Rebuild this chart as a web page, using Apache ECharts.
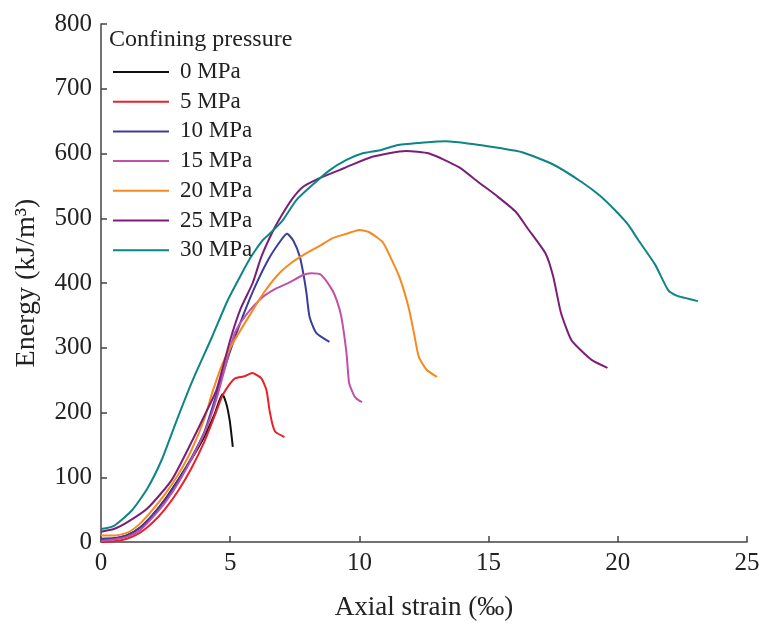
<!DOCTYPE html>
<html>
<head>
<meta charset="utf-8">
<script src="https://cdn.jsdelivr.net/npm/echarts@6/dist/echarts.min.js"></script>
<style>html,body{margin:0;padding:0;background:#fff}#chart{width:760px;height:624px}</style>
</head>
<body>
<div id="chart"></div>
<script>
var seriesNames = ['0 MPa','5 MPa','10 MPa','15 MPa','20 MPa','25 MPa','30 MPa'];
var xTicks = [0,5,10,15,20,25];
var yTicks = [0,100,200,300,400,500,600,700,800];

var strain0 = [0,0.5,1,1.5,2,2.5,3,3.5,4,4.4,4.7,4.86,4.98,5.05,5.1];
var energy0 = [3,5,10,22,42,67,97,128,163,198,228,212,188,165,147];

var strain5 = [0,0.5,1,1.5,2,2.5,3,3.5,4,4.4,4.7,5.0,5.2,5.56,5.85,6.2,6.4,6.52,6.64,6.75,7.1];
var energy5 = [0,1,5,14,30,52,80,114,155,195,226,245,253,256,261,253,235,204,181,170,162];

var strain10 = [0,0.5,1,1.5,2,2.5,3,3.5,4,4.5,5,5.5,6,6.5,7,7.2,7.45,7.7,7.85,7.95,8.07,8.33,8.84];
var energy10 = [5,6,10,22,42,66,96,130,170,232,295,350,398,438,468,476,465,440,410,385,348,323,309];

var strain15 = [0,0.5,1,1.5,2,2.5,3,3.5,4,4.5,5,5.2,5.6,6.25,6.8,7.3,7.8,8.14,8.5,8.95,9.15,9.3,9.5,9.6,9.75,9.87,10.1];
var energy15 = [2,4,8,18,38,62,92,128,168,225,300,325,350,378,392,401,412,415,413,389,370,348,292,246,230,222,216];

var strain20 = [0,0.5,1,1.5,2,2.5,3,3.5,4,4.3,4.7,5.1,5.75,6.3,6.9,7.4,7.95,8.5,8.95,9.5,10.0,10.4,10.9,11.2,11.55,11.9,12.1,12.3,12.6,13.0];
var energy20 = [10,10,14,28,50,75,105,142,190,230,275,307,350,385,415,432,446,458,469,476,482,478,463,440,409,363,325,286,266,255];

var strain25 = [0,0.5,1.04,1.8,2.74,3.55,4.0,4.47,5.0,5.4,5.87,6.2,6.65,7.0,7.4,7.8,8.3,9.2,9.5,10.5,11.8,12.7,13.85,14.6,15.3,16.05,16.5,17.2,17.5,17.8,18.2,18.6,19.0,19.6];
var energy25 = [16,20,31,52,96,158,195,235,312,360,400,440,480,505,530,548,559,574,579,595,604,600,579,556,535,510,485,446,410,354,312,295,281,269];

var strain30 = [0,0.5,1.2,1.8,2.35,2.93,3.55,4.3,4.9,5.37,5.8,6.25,6.5,7.0,7.56,8.2,8.84,9.5,10.1,10.8,11.5,12.5,13.35,14.5,15.5,16.3,17.5,18.6,19.3,19.95,20.4,20.8,21.45,21.95,22.3,22.6,23.1];
var energy30 = [20,25,49,83,127,188,250,317,373,409,440,466,475,495,528,552,574,590,600,605,613,617,619,614,608,602,583,556,535,510,490,466,428,389,380,377,372];

var strains = [strain0,strain5,strain10,strain15,strain20,strain25,strain30];
var energies = [energy0,energy5,energy10,energy15,energy20,energy25,energy30];
var colors = ['#111111','#e8202a','#3b3d9c','#c24fa8','#f58a1f','#7b1e78','#0e8585'];

var FONT = '"Liberation Serif","Times New Roman",serif';

function zip(a,b){ return a.map(function(v,i){ return [v,b[i]]; }); }

var series = seriesNames.map(function(n,i){
  return {
    name: n, type: 'line', data: zip(strains[i], energies[i]),
    showSymbol: false, symbol: 'none', smooth: 0.2,
    lineStyle: {color: colors[i], width: 2}, itemStyle: {color: colors[i]},
    animation: false
  };
});

var chart = echarts.init(document.getElementById('chart'), null, {renderer:'canvas'});
chart.setOption({
  backgroundColor: '#fff',
  animation: false,
  title: {
    text: 'Confining pressure', left: 104, top: 23,
    textStyle: {fontFamily: FONT, fontSize: 24, fontWeight: 'normal', color: '#222'}
  },
  legend: {
    orient: 'vertical', left: 108, top: 55,
    data: seriesNames, icon: 'rect', itemWidth: 56, itemHeight: 2, itemGap: 5.7,
    textStyle: {fontFamily: FONT, fontSize: 23, color: '#222', lineHeight: 24, padding: [0,0,0,6]}
  },
  grid: {left: 101, right: 13, top: 24, bottom: 82, containLabel: false, outerBoundsMode: 'none'},
  xAxis: {
    type: 'value', min: 0, max: 25, interval: 5,
    name: 'Axial strain (‰)', nameLocation: 'middle', nameGap: 52,
    nameTextStyle: {fontFamily: FONT, fontSize: 27, color: '#222'},
    axisLine: {show: true, lineStyle: {color: '#444', width: 1.5}},
    axisTick: {show: true, inside: true, length: 6, lineStyle: {color: '#444', width: 1.5}},
    axisLabel: {fontFamily: FONT, fontSize: 25, color: '#222', margin: 9,
      formatter: function(v){ return xTicks.indexOf(v) >= 0 ? String(v) : ''; }},
    splitLine: {show: false}
  },
  yAxis: {
    type: 'value', min: 0, max: 800, interval: 100,
    name: 'Energy (kJ/m³)', nameLocation: 'middle', nameGap: 60,
    nameTextStyle: {fontFamily: FONT, fontSize: 28, color: '#222'},
    axisLine: {show: true, lineStyle: {color: '#444', width: 1.5}},
    axisTick: {show: true, inside: true, length: 6, lineStyle: {color: '#444', width: 1.5}},
    axisLabel: {fontFamily: FONT, fontSize: 25, color: '#222', margin: 9,
      formatter: function(v){ return yTicks.indexOf(v) >= 0 ? String(v) : ''; }},
    splitLine: {show: false}
  },
  series: series
});
</script>
</body>
</html>
